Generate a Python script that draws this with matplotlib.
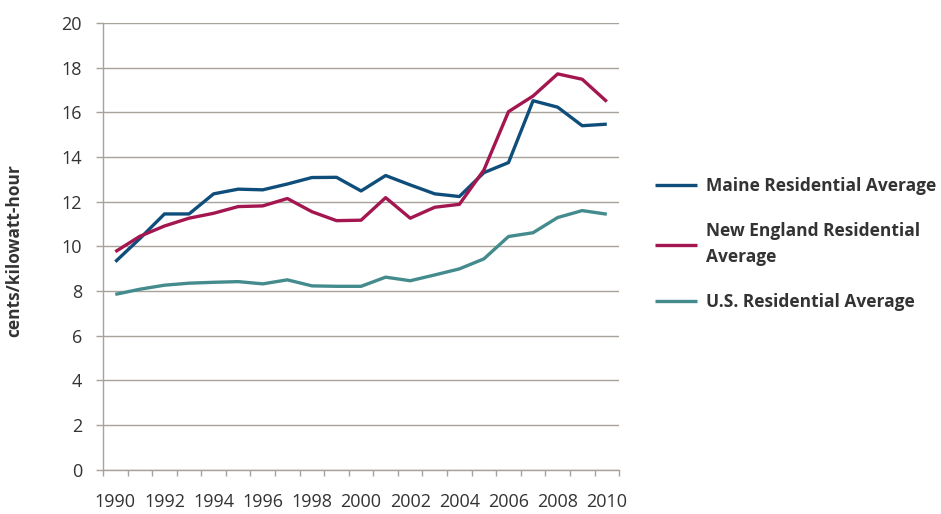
import numpy as np
import matplotlib
matplotlib.use('Agg')
import matplotlib.pyplot as plt

plt.rcParams['font.family'] = ['Open Sans', 'DejaVu Sans']

# ── Données (cents/kWh) ──
years = list(range(1990, 2011))
maine = [9.31, 10.35, 11.45, 11.45, 12.35, 12.56, 12.53, 12.79, 13.08, 13.09, 12.48,
         13.17, 12.75, 12.35, 12.23, 13.30, 13.75, 16.52, 16.23, 15.40, 15.47]
new_england = [9.76, 10.45, 10.91, 11.26, 11.48, 11.78, 11.81, 12.14, 11.55, 11.15, 11.17,
               12.18, 11.26, 11.75, 11.88, 13.42, 16.03, 16.73, 17.72, 17.48, 16.48]
us = [7.85, 8.08, 8.26, 8.35, 8.39, 8.42, 8.32, 8.50, 8.23, 8.21, 8.21,
      8.62, 8.46, 8.72, 8.99, 9.44, 10.44, 10.61, 11.29, 11.60, 11.44]

series = [
    ("Maine Residential Average", maine, "#0f4e7b"),
    ("New England Residential\nAverage", new_england, "#a3164f"),
    ("U.S. Residential Average", us, "#448b8d"),
]

GRID = "#a8a29d"
TXT = "#333333"

fig = plt.figure(figsize=(9.41, 5.14), dpi=100)
ax = fig.add_axes([0.1095, 0.0862, 0.5484, 0.8691])

x = np.arange(len(years))
handles = []
for label, vals, col in series:
    ln, = ax.plot(x, vals, color=col, linewidth=2.4, solid_capstyle='butt', label=label)
    handles.append(ln)

ax.set_xlim(-0.5, len(years) - 0.5)
ax.set_ylim(0, 20)
ax.set_yticks(range(0, 21, 2))
ax.yaxis.grid(True, color=GRID, linewidth=1.0)
ax.set_axisbelow(True)

# x : ticks entre les catégories, étiquettes une année sur deux
ax.set_xticks(x[::2])
ax.set_xticklabels([str(y) for y in years[::2]])
ax.set_xticks(np.arange(-0.5, len(years)), minor=True)
ax.tick_params(axis='x', which='major', length=0, pad=17, labelsize=13, labelcolor=TXT)
ax.tick_params(axis='x', which='minor', length=4.5, width=1.0, color=GRID, direction='out')
ax.tick_params(axis='y', length=4.7, width=1.0, color=GRID, pad=10.5, labelsize=13, labelcolor=TXT)

for s in ['top', 'right']:
    ax.spines[s].set_visible(False)
for s in ['left', 'bottom']:
    ax.spines[s].set_color(GRID)
    ax.spines[s].set_linewidth(1.0)

ax.set_ylabel("cents/kilowatt-hour", fontsize=12.5, fontweight='bold', color=TXT)
ax.yaxis.set_label_coords(-0.155, 0.49)

leg = ax.legend(handles=handles, loc='upper left', bbox_to_anchor=(1.07, 0.655),
                frameon=False, prop={'weight': 'bold', 'size': 12.5},
                handlelength=2.4, handletextpad=0.55, labelspacing=1.55, labelcolor=TXT,
                borderaxespad=0, borderpad=0)
for t in leg.get_texts():
    t.set_linespacing(1.6)

fig.savefig("out.png", dpi=100)
